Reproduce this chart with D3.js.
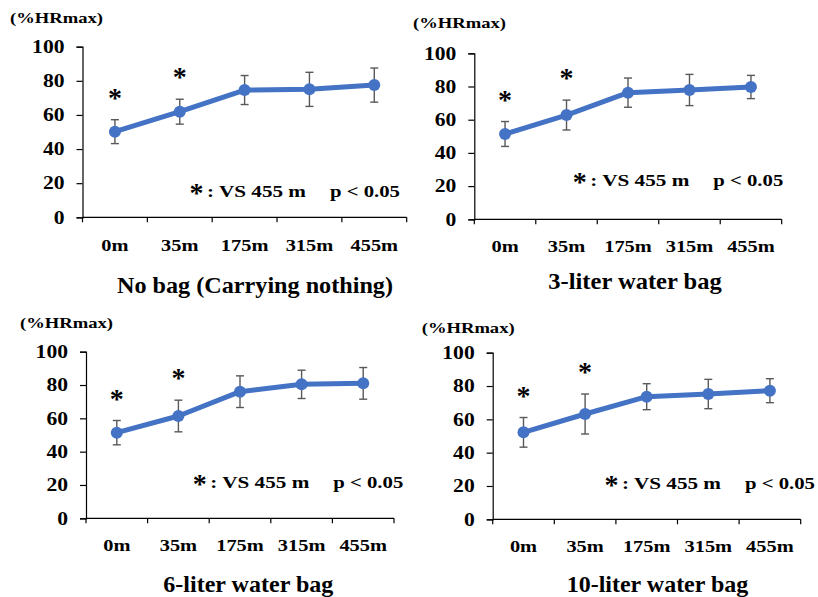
<!DOCTYPE html>
<html>
<head>
<meta charset="utf-8">
<script src="https://cdn.jsdelivr.net/npm/d3@7"></script>
<style>
  body { margin: 0; background: #fff; }
  text { font-family: "Liberation Serif", "Times New Roman", serif; font-weight: bold; fill: #000; }
</style>
</head>
<body>
<div id="chart-area"></div>
<script>
var categories = ["0m", "35m", "175m", "315m", "455m"];
var yTicks = [0, 20, 40, 60, 80, 100];
var titles = ["No bag (Carrying nothing)", "3-liter water bag", "6-liter water bag", "10-liter water bag"];

var noBagMean = [50.2, 61.9, 74.6, 75.0, 77.5];
var noBagSD = [7.0, 7.3, 8.5, 10.0, 10.0];
var bag3Mean = [51.4, 62.8, 76.3, 77.9, 79.7];
var bag3SD = [7.5, 9.0, 8.8, 9.4, 7.0];
var bag6Mean = [51.4, 61.4, 76.0, 80.4, 81.0];
var bag6SD = [7.3, 9.5, 9.5, 8.5, 9.5];
var bag10Mean = [52.2, 63.2, 73.6, 75.2, 77.2];
var bag10SD = [8.9, 12.0, 7.8, 8.8, 7.2];

var significant = [true, true, false, false, false];
var unitLabel = "(%HRmax)";
var noteStar = "*";
var noteLeft = ": VS 455 m";
var noteRight = "p < 0.05";

var means = [noBagMean, bag3Mean, bag6Mean, bag10Mean];
var sds = [noBagSD, bag3SD, bag6SD, bag10SD];

// where each panel sits on the page
var layout = [
    { left: 82.5, right: 406.7, top: 46.7, bottom: 217.3, unitX: 10, unitY: 22.7, noteX: 190, noteY: 196.7, titleX: 117, titleY: 292.7, titleW: 276, xLabelY: 250.7 },
    { left: 474.3, right: 781.7, top: 53.3, bottom: 219.3, unitX: 413, unitY: 28.3, noteX: 573.3, noteY: 185.7, titleX: 548.3, titleY: 289.3, titleW: 173.4, xLabelY: 252.3 },
    { left: 86, right: 394, top: 351.7, bottom: 518.3, unitX: 20, unitY: 328.3, noteX: 193.3, noteY: 488.3, titleX: 163.3, titleY: 592, titleW: 170, xLabelY: 550.7 },
    { left: 492.7, right: 800.7, top: 352.7, bottom: 519.3, unitX: 421.7, unitY: 333.3, noteX: 605, noteY: 489.3, titleX: 566.7, titleY: 592, titleW: 181.6, xLabelY: 552.3 }
];

var blue = "#4472C4";
var errColor = "#595959";

var svg = d3.select("#chart-area")
    .append("svg")
    .attr("width", 818)
    .attr("height", 597);

layout.forEach(function(p, k) {
    var g = svg.append("g");

    var x = d3.scaleBand()
        .domain(categories)
        .range([p.left, p.right]);

    var y = d3.scaleLinear()
        .domain([0, 100])
        .range([p.bottom, p.top]);

    var data = categories.map(function(c, i) {
        return { cat: c, mean: means[k][i], sd: sds[k][i], sig: significant[i] };
    });

    // y axis
    var yAxis = g.append("g")
        .attr("transform", "translate(" + p.left + ",0)")
        .call(d3.axisLeft(y).tickValues(yTicks).tickSize(6).tickFormat(""));
    yAxis.selectAll("line, path").attr("stroke", "#000").attr("stroke-width", 1.2);

    g.selectAll(".ytl")
        .data(yTicks)
        .enter()
        .append("text")
        .attr("class", "ytl")
        .attr("text-anchor", "end")
        .attr("font-size", "18px")
        .attr("transform", function(d) {
            return "translate(" + (p.left - 18) + "," + (y(d) + 6.3) + ") scale(1.2,1)";
        })
        .text(function(d) { return d; });

    // x axis with ticks on band edges
    var xAxis = g.append("g")
        .attr("transform", "translate(0," + p.bottom + ")");
    xAxis.append("line")
        .attr("x1", p.left).attr("x2", p.right)
        .attr("stroke", "#000").attr("stroke-width", 1.2);
    var edges = categories.map(function(c) { return x(c); }).concat([p.right]);
    xAxis.selectAll(".xt")
        .data(edges)
        .enter()
        .append("line")
        .attr("x1", function(d) { return d; })
        .attr("x2", function(d) { return d; })
        .attr("y1", 0).attr("y2", 5)
        .attr("stroke", "#000").attr("stroke-width", 1.2);

    g.selectAll(".xtl")
        .data(categories)
        .enter()
        .append("text")
        .attr("class", "xtl")
        .attr("text-anchor", "middle")
        .attr("font-size", "17px")
        .attr("transform", function(d) {
            return "translate(" + (x(d) + x.bandwidth() / 2) + "," + p.xLabelY + ") scale(1.2,1)";
        })
        .text(function(d) { return d; });

    // error bars
    var cx = function(d) { return x(d.cat) + x.bandwidth() / 2; };
    var eb = g.selectAll(".err")
        .data(data)
        .enter()
        .append("g")
        .attr("class", "err")
        .attr("stroke", errColor)
        .attr("stroke-width", 1.4);
    eb.append("line")
        .attr("x1", cx).attr("x2", cx)
        .attr("y1", function(d) { return y(d.mean + d.sd); })
        .attr("y2", function(d) { return y(d.mean - d.sd); });
    eb.append("line")
        .attr("x1", function(d) { return cx(d) - 4; })
        .attr("x2", function(d) { return cx(d) + 4; })
        .attr("y1", function(d) { return y(d.mean + d.sd); })
        .attr("y2", function(d) { return y(d.mean + d.sd); });
    eb.append("line")
        .attr("x1", function(d) { return cx(d) - 4; })
        .attr("x2", function(d) { return cx(d) + 4; })
        .attr("y1", function(d) { return y(d.mean - d.sd); })
        .attr("y2", function(d) { return y(d.mean - d.sd); });

    // line + markers
    var line = d3.line()
        .x(cx)
        .y(function(d) { return y(d.mean); });
    g.append("path")
        .datum(data)
        .attr("d", line)
        .attr("fill", "none")
        .attr("stroke", blue)
        .attr("stroke-width", 5)
        .attr("stroke-linejoin", "round");
    g.selectAll(".pt")
        .data(data)
        .enter()
        .append("circle")
        .attr("class", "pt")
        .attr("cx", cx)
        .attr("cy", function(d) { return y(d.mean); })
        .attr("r", 6)
        .attr("fill", blue);

    // significance marks
    g.selectAll(".sig")
        .data(data.filter(function(d) { return d.sig; }))
        .enter()
        .append("text")
        .attr("class", "sig")
        .attr("text-anchor", "middle")
        .attr("font-size", "28px")
        .attr("x", cx)
        .attr("y", function(d) { return y(d.mean + d.sd) - 13; })
        .text("*");

    // texts
    g.append("text")
        .attr("x", p.unitX)
        .attr("y", p.unitY)
        .attr("font-size", "14px")
        .attr("textLength", 93)
        .attr("lengthAdjust", "spacingAndGlyphs")
        .text(unitLabel);

    g.append("text")
        .attr("x", p.noteX + 6.5)
        .attr("y", p.noteY + 5)
        .attr("text-anchor", "middle")
        .attr("font-size", "28px")
        .text(noteStar);

    g.append("text")
        .attr("x", p.noteX + 17)
        .attr("y", p.noteY)
        .attr("font-size", "17px")
        .attr("textLength", 99)
        .attr("lengthAdjust", "spacingAndGlyphs")
        .text(noteLeft);

    g.append("text")
        .attr("x", p.noteX + 140)
        .attr("y", p.noteY)
        .attr("font-size", "17px")
        .attr("textLength", 70)
        .attr("lengthAdjust", "spacingAndGlyphs")
        .text(noteRight);

    g.append("text")
        .attr("x", p.titleX)
        .attr("y", p.titleY)
        .attr("font-size", "24px")
        .attr("textLength", p.titleW)
        .attr("lengthAdjust", "spacingAndGlyphs")
        .text(titles[k]);
});
</script>
</body>
</html>
